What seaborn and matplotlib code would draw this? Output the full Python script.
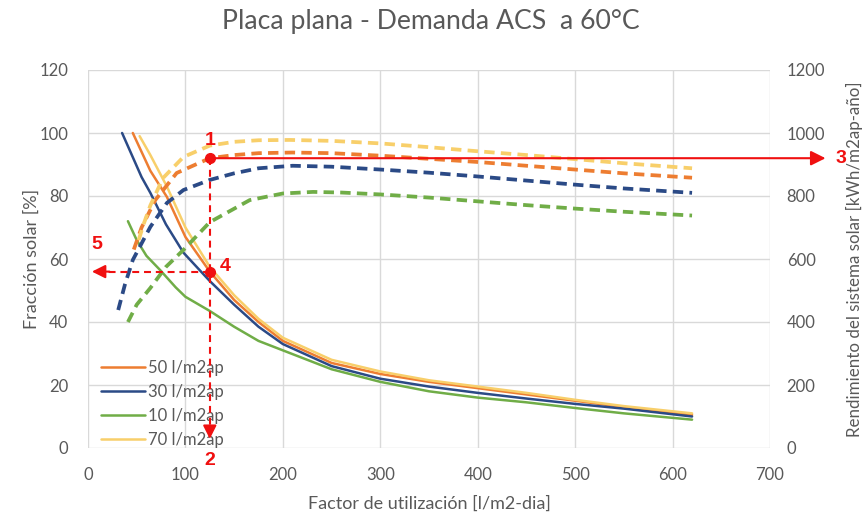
import matplotlib
matplotlib.use("Agg")
import matplotlib.pyplot as plt
import seaborn as sns
import pandas as pd

# ---------------- data ----------------
series_order = ["50 l/m2ap", "30 l/m2ap", "10 l/m2ap", "70 l/m2ap"]
colors = {"50 l/m2ap": "#ED7D31", "30 l/m2ap": "#2B4A86",
          "10 l/m2ap": "#70AD47", "70 l/m2ap": "#F8CF6A"}

# Fracción solar [%] (left axis, solid)
frac_x = {
    "30 l/m2ap": [35, 45, 55, 64, 80, 98, 125, 150, 175, 200, 250, 300, 350, 400, 450, 500, 550, 620],
    "50 l/m2ap": [46, 55, 64, 81, 100, 125, 150, 175, 200, 250, 300, 350, 400, 450, 500, 550, 620],
    "70 l/m2ap": [53, 64, 81, 100, 125, 150, 175, 200, 250, 300, 350, 400, 450, 500, 550, 620],
    "10 l/m2ap": [41, 50, 60, 74, 90, 100, 125, 150, 175, 200, 250, 300, 350, 400, 450, 500, 550, 620],
}
frac_y = {
    "30 l/m2ap": [100, 93, 86, 81, 71, 62, 53, 45.5, 38.5, 33, 26, 22, 19.5, 17.5, 15.7, 14, 12.5, 10],
    "50 l/m2ap": [100, 94, 88, 79.7, 67, 56, 47, 40, 34, 27, 23.5, 21, 19, 17, 15, 13, 10.5],
    "70 l/m2ap": [99, 93, 83, 70, 57.5, 48.5, 41, 35, 28, 24.3, 21.5, 19.5, 17.5, 15.3, 13.3, 11],
    "10 l/m2ap": [72, 66, 61, 56.5, 51, 48, 43.5, 38.5, 34, 31, 25, 21, 18, 16, 14.5, 12.7, 11, 9],
}

# Rendimiento [kWh/m2ap-año] (right axis, dashed)
rend_x = {
    "30 l/m2ap": [31, 38, 46, 64, 81, 98, 125, 150, 175, 210, 250, 300, 350, 400, 450, 500, 550, 620],
    "50 l/m2ap": [47, 55, 69, 91, 125, 150, 175, 210, 250, 300, 350, 400, 450, 500, 550, 620],
    "70 l/m2ap": [52, 57, 64, 77, 98, 125, 150, 175, 207, 250, 300, 350, 400, 450, 500, 550, 620],
    "10 l/m2ap": [41, 50, 64, 80, 98, 125, 166, 200, 231, 260, 300, 350, 400, 450, 500, 550, 620],
}
rend_y = {
    "30 l/m2ap": [438, 520, 597, 702, 778, 819, 851, 872, 888, 896, 893, 884, 874, 862, 849, 836, 824, 810],
    "50 l/m2ap": [630, 700, 787, 873, 920, 930, 936, 938, 936, 928, 918, 908, 896, 884, 872, 858],
    "70 l/m2ap": [660, 710, 770, 857, 924, 960, 972, 977, 978, 975, 967, 955, 942, 930, 917, 904, 888],
    "10 l/m2ap": [400, 455, 508, 575, 629, 717, 787, 808, 813, 811, 805, 795, 783, 771, 760, 750, 738],
}

x_ticks = [0, 100, 200, 300, 400, 500, 600, 700]
y_ticks_left = [0, 20, 40, 60, 80, 100, 120]
y_ticks_right = [0, 200, 400, 600, 800, 1000, 1200]

# annotation reference values
x_ref = 125
y_frac_ref = 56       # point 4
y_rend_ref = 920      # point 1 / 3

# ---------------- build tables ----------------
frac_df = pd.concat([pd.DataFrame({"x": frac_x[s], "y": frac_y[s], "serie": s}) for s in series_order],
                    ignore_index=True)
rend_df = pd.concat([pd.DataFrame({"x": rend_x[s], "y": rend_y[s], "serie": s}) for s in series_order],
                    ignore_index=True)

# ---------------- style ----------------
sns.set_theme(style="white")
plt.rcParams["font.family"] = ["Lato", "DejaVu Sans"]
plt.rcParams["lines.scale_dashes"] = False
gray = "#595959"

fig = plt.figure(figsize=(8.66, 5.16), dpi=100)
ax = fig.add_axes([88 / 866, 1 - 448 / 516, (770 - 88) / 866, (448 - 70) / 516])
ax2 = ax.twinx()

sns.lineplot(data=frac_df, x="x", y="y", hue="serie", hue_order=series_order, palette=colors,
             ax=ax, estimator=None, sort=False, linewidth=1.8, legend=True)
sns.lineplot(data=rend_df, x="x", y="y", hue="serie", hue_order=series_order, palette=colors,
             ax=ax2, estimator=None, sort=False, linewidth=2.7, legend=False)
for ln in ax2.lines:
    ln.set_dashes([7.5, 4.5])
    ln.set_solid_capstyle("butt")

ax.set_xlim(0, 700)
ax.set_ylim(0, 120)
ax2.set_ylim(0, 1200)
ax.set_xticks(x_ticks)
ax.set_yticks(y_ticks_left)
ax2.set_yticks(y_ticks_right)
ax.grid(True, color="#D9D9D9", linewidth=1)
ax2.grid(False)
for a in (ax, ax2):
    for sp in a.spines.values():
        sp.set_visible(False)
    a.tick_params(length=0, labelsize=12, labelcolor=gray)
ax.tick_params(axis="y", pad=14.4)
ax.tick_params(axis="x", pad=14)
ax2.tick_params(axis="y", pad=12)

ax.set_xlabel("Factor de utilización [l/m2-dia]", fontsize=13, color=gray, labelpad=9)
ax.set_ylabel("Fracción solar [%]", fontsize=13, color=gray, labelpad=-0.5)
ax2.set_ylabel("Rendimiento del sistema solar [kWh/m2ap-año]", fontsize=12.2, color=gray, labelpad=15)
fig.suptitle("Placa plana - Demanda ACS  a 60°C", x=0.497, y=0.982, fontsize=19.2, color=gray)

handles, labels = ax.get_legend_handles_labels()
ax.legend(handles, labels, loc="lower left", bbox_to_anchor=(0.0, -0.035), frameon=False,
          fontsize=12, labelcolor=gray, handlelength=2.6, handletextpad=0.2, labelspacing=0.48,
          borderaxespad=0.4)

# ---------------- red annotations (right axis units) ----------------
red = "#F01010"
lab = dict(color=red, fontsize=14, fontweight="bold", family="Liberation Sans")
ax2.plot([x_ref, x_ref], [y_rend_ref, 45], color=red, lw=1.5, dashes=[5, 3.5], zorder=5)
ax2.annotate("", xy=(x_ref, 20), xytext=(x_ref, 60),
             arrowprops=dict(arrowstyle="-|>", color=red, lw=1.5, mutation_scale=20), zorder=6)
ax2.annotate("", xy=(757, y_rend_ref), xytext=(x_ref, y_rend_ref), annotation_clip=False,
             arrowprops=dict(arrowstyle="-|>", color=red, lw=1.5, mutation_scale=22,
                             shrinkA=0, shrinkB=0), zorder=6)
ax2.plot([x_ref, 15], [y_frac_ref * 10, y_frac_ref * 10], color=red, lw=1.5, dashes=[5, 3.5], zorder=5)
ax2.annotate("", xy=(4, y_frac_ref * 10), xytext=(22, y_frac_ref * 10),
             arrowprops=dict(arrowstyle="-|>", color=red, lw=1.5, mutation_scale=20,
                             shrinkA=0, shrinkB=0), zorder=6)
ax2.plot([x_ref, x_ref], [y_rend_ref, y_frac_ref * 10], "o", color=red, markersize=7, zorder=7)
ax2.text(x_ref, 975, "1", ha="center", va="center", **lab)
ax2.text(x_ref, -40, "2", ha="center", va="center", clip_on=False, **lab)
ax2.text(767, y_rend_ref, "3", ha="left", va="center", clip_on=False, **lab)
ax2.text(x_ref + 10, y_frac_ref * 10 + 15, "4", ha="left", va="center", **lab)
ax2.text(9, 645, "5", ha="center", va="center", **lab)

fig.savefig("out.png", dpi=100)
